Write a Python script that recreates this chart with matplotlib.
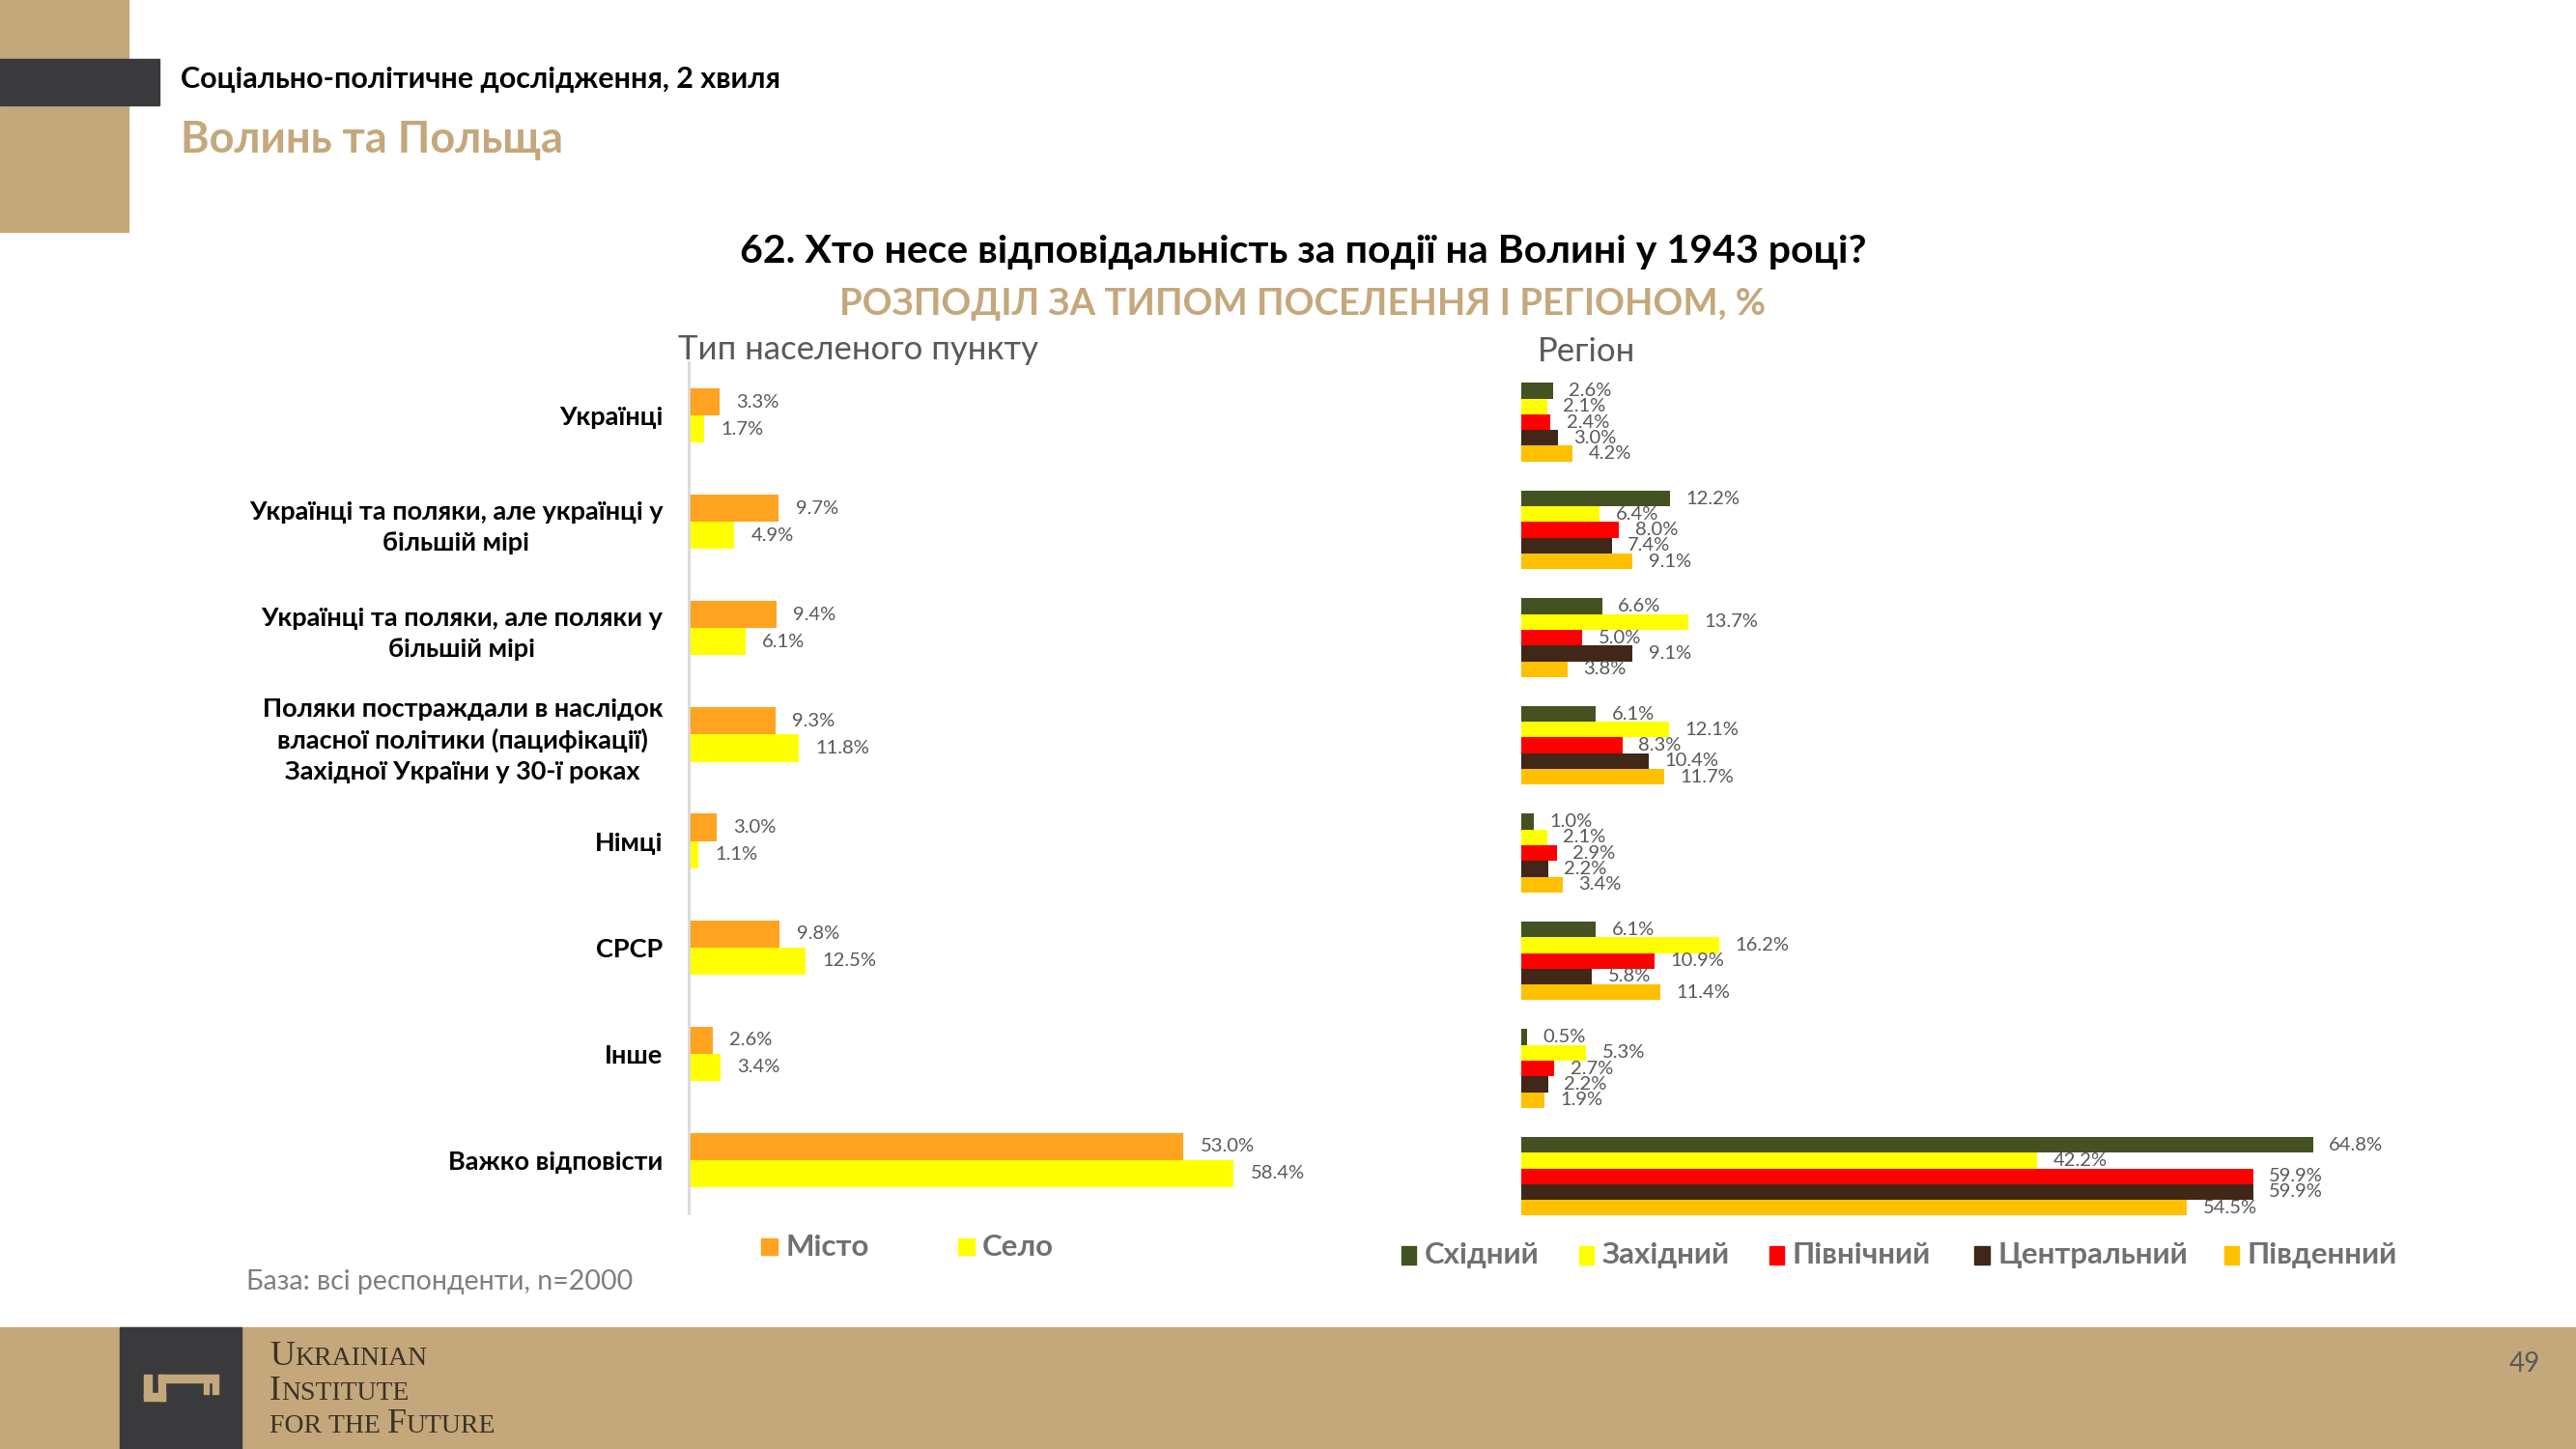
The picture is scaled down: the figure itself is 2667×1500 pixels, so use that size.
import numpy as np
import matplotlib.pyplot as plt
from matplotlib.patches import Rectangle

plt.rcParams['font.family'] = ['Lato', 'Noto Sans', 'DejaVu Sans']

# --- data ---
categories = [
    'Українці',
    'Українці та поляки, але українці у\nбільшій мірі',
    'Українці та поляки, але поляки у\nбільшій мірі',
    'Поляки постраждали в наслідок\nвласної політики (пацифікації)\nЗахідної України у 30-ї роках',
    'Німці',
    'СРСР',
    'Інше',
    'Важко відповісти',
]
settlement_names = ['Місто', 'Село']
misto = [3.3, 9.7, 9.4, 9.3, 3.0, 9.8, 2.6, 53.0]
selo = [1.7, 4.9, 6.1, 11.8, 1.1, 12.5, 3.4, 58.4]

region_names = ['Східний', 'Західний', 'Північний', 'Центральний', 'Південний']
skhidnyi = [2.6, 12.2, 6.6, 6.1, 1.0, 6.1, 0.5, 64.8]
zakhidnyi = [2.1, 6.4, 13.7, 12.1, 2.1, 16.2, 5.3, 42.2]
pivnichnyi = [2.4, 8.0, 5.0, 8.3, 2.9, 10.9, 2.7, 59.9]
tsentralnyi = [3.0, 7.4, 9.1, 10.4, 2.2, 5.8, 2.2, 59.9]
pivdennyi = [4.2, 9.1, 3.8, 11.7, 3.4, 11.4, 1.9, 54.5]

TAN = '#C4A87B'
DARK = '#3A3A3C'
GRAY = '#595959'
settle_colors = ['#FFA321', '#FFFF00']
region_colors = ['#435220', '#FFFF00', '#FF0000', '#402718', '#FFC000']


def fx(x):
    return x / 1568


def fy(y):
    return 1 - y / 882


fig = plt.figure(figsize=(26.67, 15), dpi=100)

# header decoration
fig.patches.append(Rectangle((0, fy(141)), 78 / 1568, 141 / 882, color=TAN, transform=fig.transFigure, zorder=0))
fig.patches.append(Rectangle((0, fy(64)), 97 / 1568, 28 / 882, color=DARK, transform=fig.transFigure, zorder=1))
fig.text(fx(110), fy(48), 'Соціально-політичне дослідження, 2 хвиля', fontsize=22, fontweight='bold',
         color='black', va='center')
fig.text(fx(110), fy(85), 'Волинь та Польща', fontsize=32.5, fontweight='bold', color=TAN, va='center')

# titles
fig.text(fx(793), fy(153), '62. Хто несе відповідальність за події на Волині у 1943 році?', fontsize=29.5,
         fontweight='bold', color='black', ha='center', va='center')
fig.text(fx(793), fy(185), 'РОЗПОДІЛ ЗА ТИПОМ ПОСЕЛЕННЯ І РЕГІОНОМ, %', fontsize=27.5, fontweight='bold',
         color=TAN, ha='center', va='center')
fig.text(fx(413), fy(213), 'Тип населеного пункту', fontsize=25, color=GRAY, va='center')
fig.text(fx(936), fy(214), 'Регіон', fontsize=25, color=GRAY, va='center')

y = np.arange(len(categories))

# left chart: settlement type
ax1 = fig.add_axes([fx(419), fy(738.4), (817 - 419) / 1568, (738.4 - 220.6) / 882])
h1 = 0.255
for i, (vals, col) in enumerate(zip([misto, selo], settle_colors)):
    pos = y + (i - 0.5) * h1
    ax1.barh(pos, vals, height=h1, color=col)
    for p, v in zip(pos, vals):
        ax1.text(v + 1.8, p, f'{v:.1f}%', va='center', ha='left', fontsize=14.5, color=GRAY)
ax1.set_xlim(0, 70)
ax1.set_ylim(len(categories) - 0.5, -0.5)
ax1.set_xticks([])
ax1.set_yticks(y, categories)
ax1.tick_params(axis='y', length=0, pad=19)
for t in ax1.get_yticklabels():
    t.set_fontweight('bold')
    t.set_fontsize(19.5)
    t.set_multialignment('center')
    t.set_linespacing(1.38)
for s in ['top', 'right', 'bottom']:
    ax1.spines[s].set_visible(False)
ax1.spines['left'].set_color('#D9D9D9')
ax1.spines['left'].set_linewidth(2)

# right chart: region
ax2 = fig.add_axes([fx(926), fy(748.8), (1521 - 926) / 1568, (748.8 - 224.2) / 882])
h2 = 0.146
region_vals = [skhidnyi, zakhidnyi, pivnichnyi, tsentralnyi, pivdennyi]
for i, (vals, col) in enumerate(zip(region_vals, region_colors)):
    pos = y + (i - 2) * h2
    ax2.barh(pos, vals, height=h2, color=col)
    for p, v in zip(pos, vals):
        ax2.text(v + 1.3, p, f'{v:.1f}%', va='center', ha='left', fontsize=14.5, color=GRAY)
ax2.set_xlim(0, 80)
ax2.set_ylim(len(categories) - 0.5, -0.5)
ax2.set_xticks([])
ax2.set_yticks([])
for s in ax2.spines.values():
    s.set_visible(False)


# legends
def legend_entry(x, yc, name, col, w=10, h=10):
    fig.patches.append(Rectangle((fx(x), fy(yc + h / 2)), w / 1568, h / 882, color=col,
                                 transform=fig.transFigure))
    fig.text(fx(x + w + 5), fy(yc), name, fontsize=22.5, fontweight='bold', color='#707070', va='center')


for x, name, col in zip([463, 583], settlement_names, settle_colors):
    legend_entry(x, 759, name, col)
for x, name, col in zip([853, 961, 1077, 1202, 1354], region_names, region_colors):
    legend_entry(x, 764, name, col, w=9, h=11)

fig.text(fx(150), fy(780), 'База: всі респонденти, n=2000', fontsize=20.5, color='#7F7F7F', va='center')

# footer
fig.patches.append(Rectangle((0, 0), 1, 74 / 882, color=TAN, transform=fig.transFigure, zorder=0))
fig.patches.append(Rectangle((fx(73), 0), 74 / 1568, 74 / 882, color=DARK, transform=fig.transFigure, zorder=1))
# key logo, in full-size pixel boxes (x0, y0, x1, y1)
key_parts = [(149, 1423, 157, 1446), (149, 1442, 171, 1450), (164, 1423, 171, 1450),
             (164, 1423, 226, 1431), (211, 1431, 216, 1443), (220, 1431, 226, 1443)]
for x0, y0, x1, y1 in key_parts:
    fig.patches.append(Rectangle((x0 / 2667, 1 - y1 / 1500), (x1 - x0) / 2667, (y1 - y0) / 1500,
                                 color=TAN, transform=fig.transFigure, zorder=2))

# institute name in small caps
fig.canvas.draw()
r = fig.canvas.get_renderer()
lines = [(831, ['UKRAINIAN']), (852, ['INSTITUTE']), (872, ['FOR ', 'THE ', 'FUTURE'])]
for yb, words in lines:
    cx = fx(164)
    for wi, w in enumerate(words):
        if wi < len(words) - 1:
            parts = [('', 26), (w, 20)]
        else:
            parts = [(w[0], 26), (w[1:], 20)]
        for part, size in parts:
            if not part:
                continue
            t = fig.text(cx, fy(yb), part, fontsize=size, family='Liberation Serif', color='#3B3226',
                         va='baseline')
            bb = t.get_window_extent(renderer=r)
            cx += bb.width / fig.bbox.width

fig.text(fx(1537), fy(830), '49', fontsize=20, color=GRAY, ha='center', va='center')

fig.savefig('out.png', dpi=100)
